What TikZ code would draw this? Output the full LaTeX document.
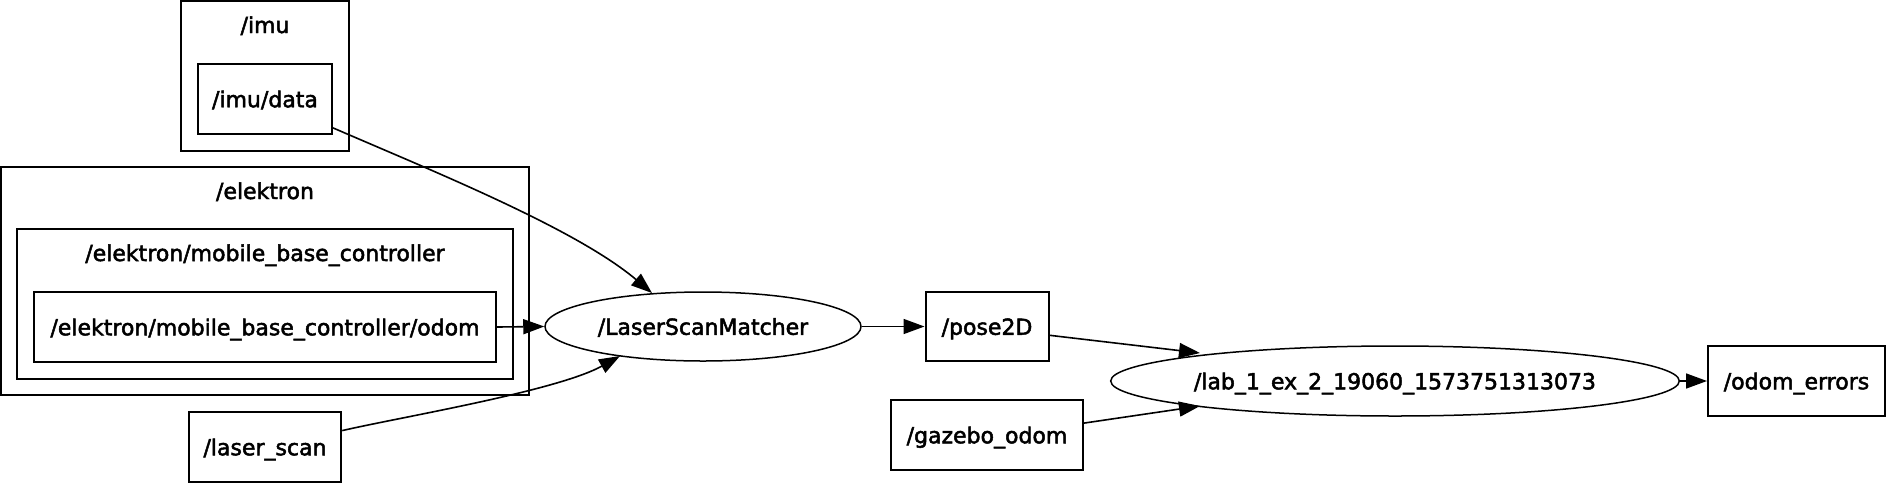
\documentclass[tikz,border=0pt]{standalone}
\usepackage{fontspec}
\setmainfont[RawFeature={embolden=2.2}]{DejaVu Sans}
\usetikzlibrary{arrows.meta,shapes.geometric,calc}
\begin{document}
\begin{tikzpicture}[x=1pt,y=-1pt,
  every node/.style={font=\fontsize{22}{26}\selectfont, inner sep=0pt},
  topic/.style={draw, line width=2pt, rectangle, text height=16.5pt, text depth=0pt},
  cluster/.style={draw, line width=2pt, rectangle},
  nodeell/.style={draw, line width=1.5pt, ellipse, text height=16.5pt, text depth=0pt},
  lbl/.style={anchor=base},
  edge/.style={line width=1.6pt, -{Triangle[length=21pt,width=15pt]}}
]
\useasboundingbox (0,0) rectangle (1887,483);
% clusters
\node[cluster, minimum width=168pt, minimum height=150pt] (imu) at (265,76) {};
\node[lbl] (imulbl) at (265,33) {/imu};
\node[cluster, minimum width=528pt, minimum height=228pt] (elektron) at (265,281) {};
\node[lbl] (elektronlbl) at (265,199) {/elektron};
\node[cluster, minimum width=496pt, minimum height=150pt] (mbc) at (265,304) {};
\node[lbl] (mbclbl) at (265,261) {/elektron/mobile\_base\_controller};
% topics
\node[topic, minimum width=134pt, minimum height=70pt] (imudata) at (265,99) {/imu/data};
\node[topic, minimum width=462pt, minimum height=70pt] (odom) at (265,327) {/elektron/mobile\_base\_controller/odom};
\node[topic, minimum width=152.5pt, minimum height=70pt] (laser) at (265,447) {/laser\_scan};
\node[topic, minimum width=123pt, minimum height=69pt] (pose) at (987,326.5) {/pose2D};
\node[topic, minimum width=192pt, minimum height=70pt] (gazebo) at (987,435) {/gazebo\_odom};
\node[topic, minimum width=177pt, minimum height=70pt] (odomerr) at (1796.5,381) {/odom\_errors};
% nodes
\node[nodeell, minimum width=316pt, minimum height=69pt] (lsm) at (703,326.5) {/LaserScanMatcher};
\node[nodeell, minimum width=566pt, minimum height=70pt] (lab) at (1395,381) {/lab\_1\_ex\_2\_19060\_1573751313073};
% arrow end points on the ellipses
\coordinate (lsmtop) at ($(lsm.center)+(-51,-33.5)$);
\coordinate (lsmbot) at ($(lsm.center)+(-83,29.5)$);
\coordinate (labtop) at ($(lab.center)+(-195,-28)$);
\coordinate (labbot) at ($(lab.center)+(-195,25)$);
% edges
\draw[edge] (imudata.-23) .. controls (430,170) and (575,228) .. (lsmtop);
\draw[edge] (odom.east) -- (lsm.west);
\draw[edge] (laser.12) .. controls (401,417) and (557,391) .. (lsmbot);
\draw[edge] (lsm.east) -- (pose.west);
\draw[edge] (pose.-8) -- (labtop);
\draw[edge] (gazebo.7.5) -- (labbot);
\draw[edge] (lab.east) -- (odomerr.west);
\end{tikzpicture}
\end{document}
